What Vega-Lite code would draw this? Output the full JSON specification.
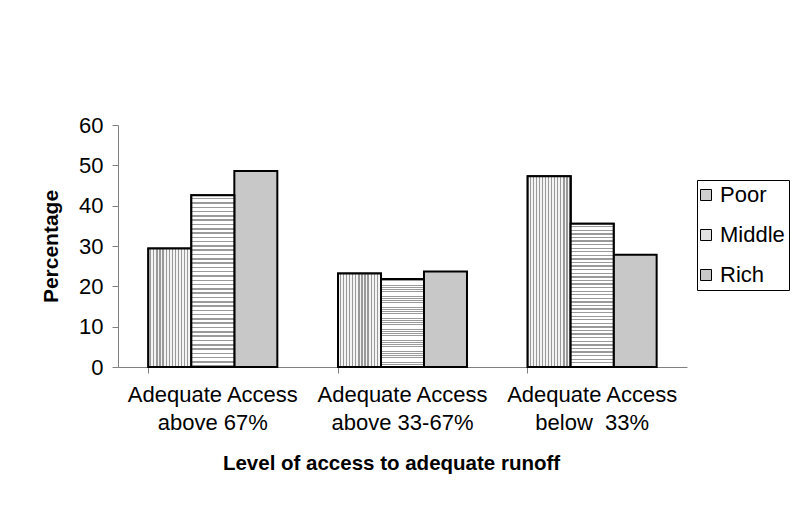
{
  "$schema": "https://vega.github.io/schema/vega-lite/v6.json",
  "width": 569,
  "height": 242,
  "autosize": "none",
  "padding": {"left": 118, "top": 125, "right": 108, "bottom": 143},
  "background": "white",
  "config": {
    "font": "Liberation Sans",
    "view": {"stroke": null}
  },
  "data": {
    "values": [
      {"level": "Adequate Access|above 67%", "group": "Poor", "pct": 29.4},
      {"level": "Adequate Access|above 67%", "group": "Middle", "pct": 42.6},
      {"level": "Adequate Access|above 67%", "group": "Rich", "pct": 48.6},
      {"level": "Adequate Access|above 33-67%", "group": "Poor", "pct": 23.2},
      {"level": "Adequate Access|above 33-67%", "group": "Middle", "pct": 21.8},
      {"level": "Adequate Access|above 33-67%", "group": "Rich", "pct": 23.7},
      {"level": "Adequate Access|below \u00a033%", "group": "Poor", "pct": 47.3},
      {"level": "Adequate Access|below \u00a033%", "group": "Middle", "pct": 35.5},
      {"level": "Adequate Access|below \u00a033%", "group": "Rich", "pct": 27.8}
    ]
  },
  "encoding": {
    "x": {
      "field": "level",
      "type": "nominal",
      "sort": null,
      "scale": {"paddingInner": 0.32, "paddingOuter": 0.16},
      "axis": {
        "title": "Level of access to adequate runoff",
        "titleFontSize": 20.5,
        "titleFontWeight": "bold",
        "titleColor": "black",
        "titlePadding": 20,
        "titleX": 273,
        "labelExpr": "split(datum.label, '|')",
        "labelAngle": 0,
        "labelFontSize": 22,
        "labelColor": "black",
        "labelLineHeight": 28,
        "labelPadding": 11,
        "labelBaseline": "top",
        "bandPosition": 0,
        "domainColor": "#808080",
        "tickColor": "#808080",
        "tickSize": 6
      }
    },
    "xOffset": {"field": "group", "type": "nominal", "sort": ["Poor", "Middle", "Rich"], "scale": {"domain": ["Poor", "Middle", "Rich"], "paddingInner": 0, "paddingOuter": 0}},
    "y": {
      "field": "pct",
      "type": "quantitative",
      "scale": {"domain": [0, 60]},
      "axis": {
        "title": "Percentage",
        "titleFontSize": 21,
        "titleFontWeight": "bold",
        "titleColor": "black",
        "titlePadding": 17,
        "values": [0, 10, 20, 30, 40, 50, 60],
        "grid": false,
        "labelFontSize": 22,
        "labelColor": "black",
        "labelPadding": 9,
        "domainColor": "#808080",
        "tickColor": "#808080",
        "tickSize": 6
      }
    }
  },
  "layer": [
    {
      "mark": {"type": "bar", "stroke": "black", "strokeWidth": 2, "opacity": 1},
      "encoding": {
        "color": {
          "field": "group",
          "type": "nominal",
          "sort": ["Poor", "Middle", "Rich"],
          "scale": {"domain": ["Poor", "Middle", "Rich"], "range": ["#cfcfcf", "#e2e2e2", "#c8c8c8"]},
          "legend": {
            "title": null,
            "orient": "none",
            "legendX": 579,
            "legendY": 55,
            "strokeColor": "black",
            "padding": 4,
            "symbolType": "square",
            "symbolSize": 121,
            "symbolOffset": -6,
            "symbolStrokeColor": "black",
            "symbolStrokeWidth": 1,
            "labelFontSize": 22,
            "labelColor": "black",
            "labelOffset": 3,
            "rowPadding": 18
          }
        }
      }
    },
    {
      "transform": [{"filter": "datum.group === 'Poor'"}],
      "mark": {"type": "bar", "stroke": "black", "strokeWidth": 2, "opacity": 1,
        "fill": {"gradient": "linear", "x1": 0, "y1": 0, "x2": 1, "y2": 0, "stops": [
            {"offset": 0, "color": "#f4f4f4"}, {"offset": 0.043, "color": "#f4f4f4"}, {"offset": 0.043, "color": "#999999"}, {"offset": 0.0714, "color": "#999999"},
            {"offset": 0.0714, "color": "#f4f4f4"}, {"offset": 0.1143, "color": "#f4f4f4"}, {"offset": 0.1143, "color": "#999999"}, {"offset": 0.1429, "color": "#999999"},
            {"offset": 0.1429, "color": "#f4f4f4"}, {"offset": 0.1857, "color": "#f4f4f4"}, {"offset": 0.1857, "color": "#999999"}, {"offset": 0.2143, "color": "#999999"},
            {"offset": 0.2143, "color": "#f4f4f4"}, {"offset": 0.2571, "color": "#f4f4f4"}, {"offset": 0.2571, "color": "#999999"}, {"offset": 0.2857, "color": "#999999"},
            {"offset": 0.2857, "color": "#f4f4f4"}, {"offset": 0.3286, "color": "#f4f4f4"}, {"offset": 0.3286, "color": "#999999"}, {"offset": 0.3571, "color": "#999999"},
            {"offset": 0.3571, "color": "#f4f4f4"}, {"offset": 0.4, "color": "#f4f4f4"}, {"offset": 0.4, "color": "#999999"}, {"offset": 0.4286, "color": "#999999"},
            {"offset": 0.4286, "color": "#f4f4f4"}, {"offset": 0.4714, "color": "#f4f4f4"}, {"offset": 0.4714, "color": "#999999"}, {"offset": 0.5, "color": "#999999"},
            {"offset": 0.5, "color": "#f4f4f4"}, {"offset": 0.5429, "color": "#f4f4f4"}, {"offset": 0.5429, "color": "#999999"}, {"offset": 0.5714, "color": "#999999"},
            {"offset": 0.5714, "color": "#f4f4f4"}, {"offset": 0.6143, "color": "#f4f4f4"}, {"offset": 0.6143, "color": "#999999"}, {"offset": 0.6429, "color": "#999999"},
            {"offset": 0.6429, "color": "#f4f4f4"}, {"offset": 0.6857, "color": "#f4f4f4"}, {"offset": 0.6857, "color": "#999999"}, {"offset": 0.7143, "color": "#999999"},
            {"offset": 0.7143, "color": "#f4f4f4"}, {"offset": 0.7571, "color": "#f4f4f4"}, {"offset": 0.7571, "color": "#999999"}, {"offset": 0.7857, "color": "#999999"},
            {"offset": 0.7857, "color": "#f4f4f4"}, {"offset": 0.8286, "color": "#f4f4f4"}, {"offset": 0.8286, "color": "#999999"}, {"offset": 0.8571, "color": "#999999"},
            {"offset": 0.8571, "color": "#f4f4f4"}, {"offset": 0.9, "color": "#f4f4f4"}, {"offset": 0.9, "color": "#999999"}, {"offset": 0.9286, "color": "#999999"},
            {"offset": 0.9286, "color": "#f4f4f4"}, {"offset": 0.9714, "color": "#f4f4f4"}, {"offset": 0.9714, "color": "#999999"}, {"offset": 1, "color": "#999999"}
        ]}
      }
    },
    {
      "transform": [{"filter": "datum.group === 'Middle'"}],
      "mark": {"type": "bar", "stroke": "black", "strokeWidth": 2, "opacity": 1,
        "fill": {"gradient": "linear", "x1": 0, "y1": 0, "x2": 0, "y2": 1, "stops": [
            {"offset": 0, "color": "#ffffff"}, {"offset": 0.016, "color": "#ffffff"}, {"offset": 0.016, "color": "#9a9a9a"}, {"offset": 0.025, "color": "#9a9a9a"},
            {"offset": 0.025, "color": "#ffffff"}, {"offset": 0.041, "color": "#ffffff"}, {"offset": 0.041, "color": "#9a9a9a"}, {"offset": 0.05, "color": "#9a9a9a"},
            {"offset": 0.05, "color": "#ffffff"}, {"offset": 0.066, "color": "#ffffff"}, {"offset": 0.066, "color": "#9a9a9a"}, {"offset": 0.075, "color": "#9a9a9a"},
            {"offset": 0.075, "color": "#ffffff"}, {"offset": 0.091, "color": "#ffffff"}, {"offset": 0.091, "color": "#9a9a9a"}, {"offset": 0.1, "color": "#9a9a9a"},
            {"offset": 0.1, "color": "#ffffff"}, {"offset": 0.116, "color": "#ffffff"}, {"offset": 0.116, "color": "#9a9a9a"}, {"offset": 0.125, "color": "#9a9a9a"},
            {"offset": 0.125, "color": "#ffffff"}, {"offset": 0.141, "color": "#ffffff"}, {"offset": 0.141, "color": "#9a9a9a"}, {"offset": 0.15, "color": "#9a9a9a"},
            {"offset": 0.15, "color": "#ffffff"}, {"offset": 0.166, "color": "#ffffff"}, {"offset": 0.166, "color": "#9a9a9a"}, {"offset": 0.175, "color": "#9a9a9a"},
            {"offset": 0.175, "color": "#ffffff"}, {"offset": 0.191, "color": "#ffffff"}, {"offset": 0.191, "color": "#9a9a9a"}, {"offset": 0.2, "color": "#9a9a9a"},
            {"offset": 0.2, "color": "#ffffff"}, {"offset": 0.216, "color": "#ffffff"}, {"offset": 0.216, "color": "#9a9a9a"}, {"offset": 0.225, "color": "#9a9a9a"},
            {"offset": 0.225, "color": "#ffffff"}, {"offset": 0.241, "color": "#ffffff"}, {"offset": 0.241, "color": "#9a9a9a"}, {"offset": 0.25, "color": "#9a9a9a"},
            {"offset": 0.25, "color": "#ffffff"}, {"offset": 0.266, "color": "#ffffff"}, {"offset": 0.266, "color": "#9a9a9a"}, {"offset": 0.275, "color": "#9a9a9a"},
            {"offset": 0.275, "color": "#ffffff"}, {"offset": 0.291, "color": "#ffffff"}, {"offset": 0.291, "color": "#9a9a9a"}, {"offset": 0.3, "color": "#9a9a9a"},
            {"offset": 0.3, "color": "#ffffff"}, {"offset": 0.316, "color": "#ffffff"}, {"offset": 0.316, "color": "#9a9a9a"}, {"offset": 0.325, "color": "#9a9a9a"},
            {"offset": 0.325, "color": "#ffffff"}, {"offset": 0.341, "color": "#ffffff"}, {"offset": 0.341, "color": "#9a9a9a"}, {"offset": 0.35, "color": "#9a9a9a"},
            {"offset": 0.35, "color": "#ffffff"}, {"offset": 0.366, "color": "#ffffff"}, {"offset": 0.366, "color": "#9a9a9a"}, {"offset": 0.375, "color": "#9a9a9a"},
            {"offset": 0.375, "color": "#ffffff"}, {"offset": 0.391, "color": "#ffffff"}, {"offset": 0.391, "color": "#9a9a9a"}, {"offset": 0.4, "color": "#9a9a9a"},
            {"offset": 0.4, "color": "#ffffff"}, {"offset": 0.416, "color": "#ffffff"}, {"offset": 0.416, "color": "#9a9a9a"}, {"offset": 0.425, "color": "#9a9a9a"},
            {"offset": 0.425, "color": "#ffffff"}, {"offset": 0.441, "color": "#ffffff"}, {"offset": 0.441, "color": "#9a9a9a"}, {"offset": 0.45, "color": "#9a9a9a"},
            {"offset": 0.45, "color": "#ffffff"}, {"offset": 0.466, "color": "#ffffff"}, {"offset": 0.466, "color": "#9a9a9a"}, {"offset": 0.475, "color": "#9a9a9a"},
            {"offset": 0.475, "color": "#ffffff"}, {"offset": 0.491, "color": "#ffffff"}, {"offset": 0.491, "color": "#9a9a9a"}, {"offset": 0.5, "color": "#9a9a9a"},
            {"offset": 0.5, "color": "#ffffff"}, {"offset": 0.516, "color": "#ffffff"}, {"offset": 0.516, "color": "#9a9a9a"}, {"offset": 0.525, "color": "#9a9a9a"},
            {"offset": 0.525, "color": "#ffffff"}, {"offset": 0.541, "color": "#ffffff"}, {"offset": 0.541, "color": "#9a9a9a"}, {"offset": 0.55, "color": "#9a9a9a"},
            {"offset": 0.55, "color": "#ffffff"}, {"offset": 0.566, "color": "#ffffff"}, {"offset": 0.566, "color": "#9a9a9a"}, {"offset": 0.575, "color": "#9a9a9a"},
            {"offset": 0.575, "color": "#ffffff"}, {"offset": 0.591, "color": "#ffffff"}, {"offset": 0.591, "color": "#9a9a9a"}, {"offset": 0.6, "color": "#9a9a9a"},
            {"offset": 0.6, "color": "#ffffff"}, {"offset": 0.616, "color": "#ffffff"}, {"offset": 0.616, "color": "#9a9a9a"}, {"offset": 0.625, "color": "#9a9a9a"},
            {"offset": 0.625, "color": "#ffffff"}, {"offset": 0.641, "color": "#ffffff"}, {"offset": 0.641, "color": "#9a9a9a"}, {"offset": 0.65, "color": "#9a9a9a"},
            {"offset": 0.65, "color": "#ffffff"}, {"offset": 0.666, "color": "#ffffff"}, {"offset": 0.666, "color": "#9a9a9a"}, {"offset": 0.675, "color": "#9a9a9a"},
            {"offset": 0.675, "color": "#ffffff"}, {"offset": 0.691, "color": "#ffffff"}, {"offset": 0.691, "color": "#9a9a9a"}, {"offset": 0.7, "color": "#9a9a9a"},
            {"offset": 0.7, "color": "#ffffff"}, {"offset": 0.716, "color": "#ffffff"}, {"offset": 0.716, "color": "#9a9a9a"}, {"offset": 0.725, "color": "#9a9a9a"},
            {"offset": 0.725, "color": "#ffffff"}, {"offset": 0.741, "color": "#ffffff"}, {"offset": 0.741, "color": "#9a9a9a"}, {"offset": 0.75, "color": "#9a9a9a"},
            {"offset": 0.75, "color": "#ffffff"}, {"offset": 0.766, "color": "#ffffff"}, {"offset": 0.766, "color": "#9a9a9a"}, {"offset": 0.775, "color": "#9a9a9a"},
            {"offset": 0.775, "color": "#ffffff"}, {"offset": 0.791, "color": "#ffffff"}, {"offset": 0.791, "color": "#9a9a9a"}, {"offset": 0.8, "color": "#9a9a9a"},
            {"offset": 0.8, "color": "#ffffff"}, {"offset": 0.816, "color": "#ffffff"}, {"offset": 0.816, "color": "#9a9a9a"}, {"offset": 0.825, "color": "#9a9a9a"},
            {"offset": 0.825, "color": "#ffffff"}, {"offset": 0.841, "color": "#ffffff"}, {"offset": 0.841, "color": "#9a9a9a"}, {"offset": 0.85, "color": "#9a9a9a"},
            {"offset": 0.85, "color": "#ffffff"}, {"offset": 0.866, "color": "#ffffff"}, {"offset": 0.866, "color": "#9a9a9a"}, {"offset": 0.875, "color": "#9a9a9a"},
            {"offset": 0.875, "color": "#ffffff"}, {"offset": 0.891, "color": "#ffffff"}, {"offset": 0.891, "color": "#9a9a9a"}, {"offset": 0.9, "color": "#9a9a9a"},
            {"offset": 0.9, "color": "#ffffff"}, {"offset": 0.916, "color": "#ffffff"}, {"offset": 0.916, "color": "#9a9a9a"}, {"offset": 0.925, "color": "#9a9a9a"},
            {"offset": 0.925, "color": "#ffffff"}, {"offset": 0.941, "color": "#ffffff"}, {"offset": 0.941, "color": "#9a9a9a"}, {"offset": 0.95, "color": "#9a9a9a"},
            {"offset": 0.95, "color": "#ffffff"}, {"offset": 0.966, "color": "#ffffff"}, {"offset": 0.966, "color": "#9a9a9a"}, {"offset": 0.975, "color": "#9a9a9a"},
            {"offset": 0.975, "color": "#ffffff"}, {"offset": 0.991, "color": "#ffffff"}, {"offset": 0.991, "color": "#9a9a9a"}, {"offset": 1, "color": "#9a9a9a"}
        ]}
      }
    }
  ]
}
